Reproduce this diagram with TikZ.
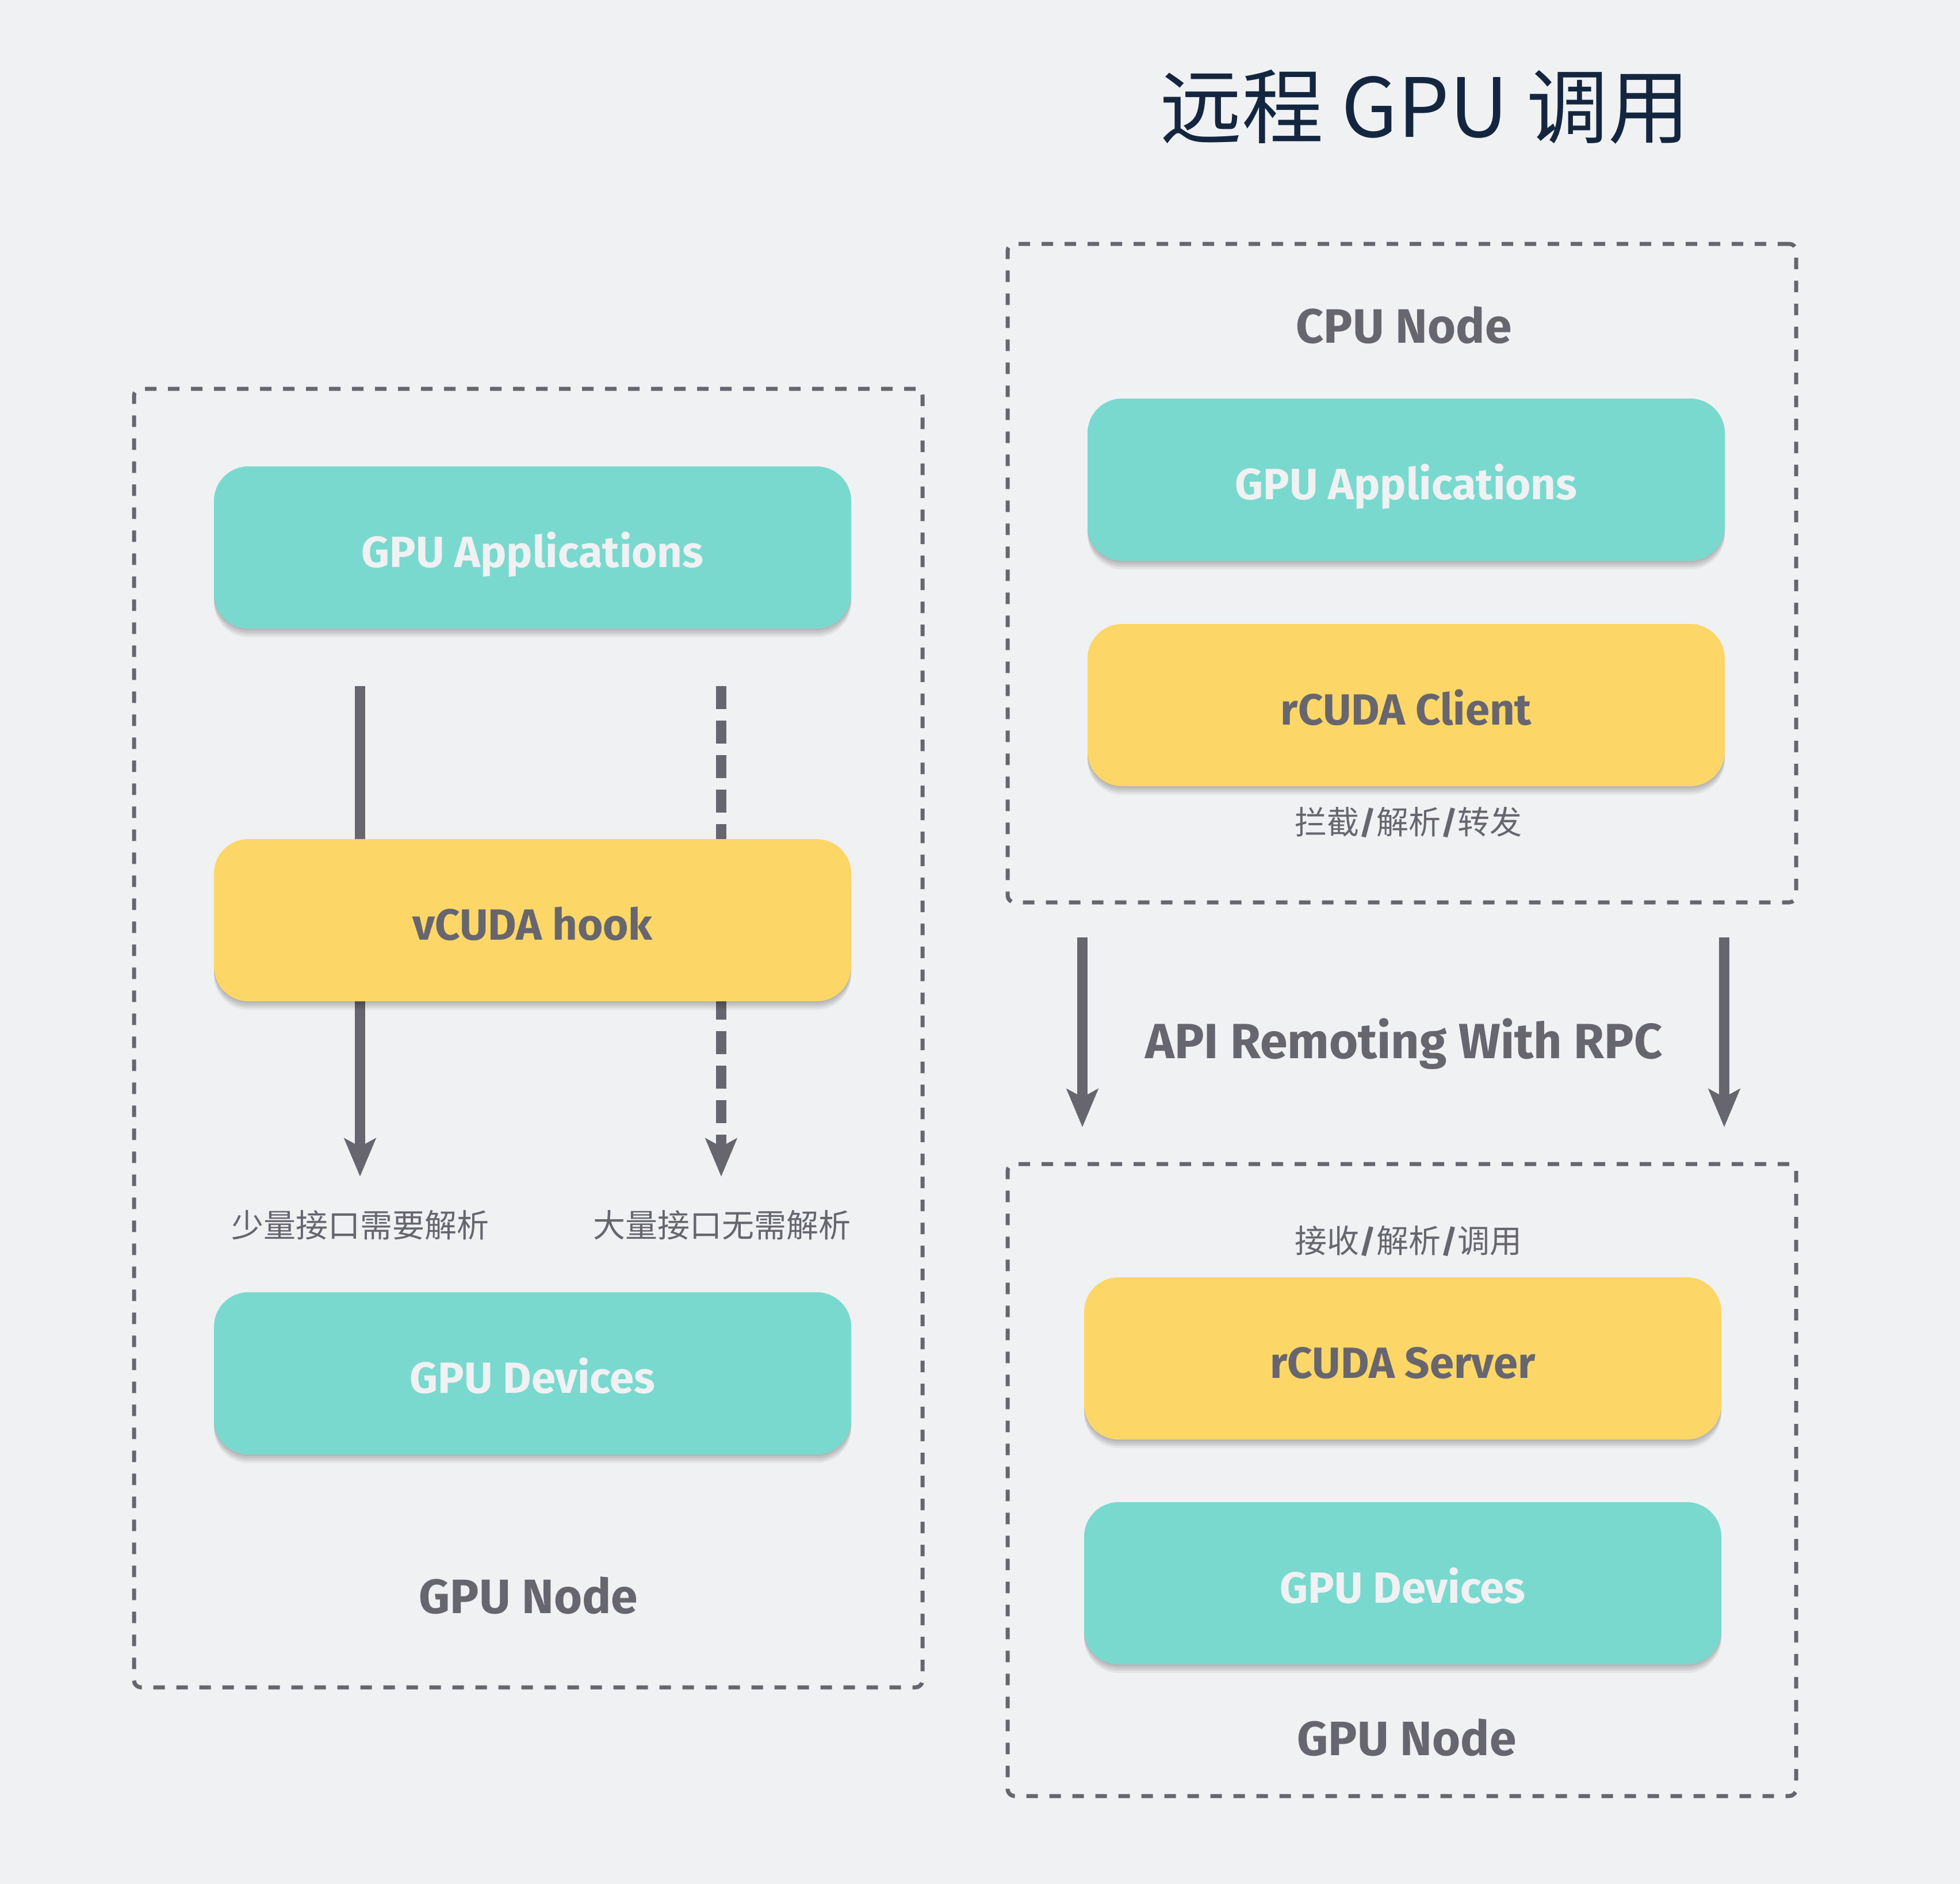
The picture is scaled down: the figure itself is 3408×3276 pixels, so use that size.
\documentclass[tikz,border=0pt]{standalone}
\usepackage{fontspec}
\setmainfont{Fira Sans}
\newfontfamily\cjk{Noto Sans CJK SC}
\usetikzlibrary{arrows.meta,shadows}
\definecolor{bgc}{HTML}{F0F1F3}
\definecolor{tealc}{HTML}{7AD9CE}
\definecolor{yelc}{HTML}{FCD767}
\definecolor{gryc}{HTML}{67666F}
\definecolor{navyc}{HTML}{14263F}
\newcommand{\boldslash}{{\fontspec{Fira Sans}\bfseries /}}
\begin{document}
\begin{tikzpicture}[x=1pt,y=-1pt,
  softshadow/.style={
    drop shadow={shadow xshift=0pt,shadow yshift=-3pt,opacity=.07,fill=black},
    drop shadow={shadow xshift=0pt,shadow yshift=-7pt,opacity=.07,fill=black},
    drop shadow={shadow xshift=0pt,shadow yshift=-11pt,opacity=.07,fill=black},
    drop shadow={shadow xshift=0pt,shadow yshift=-15pt,opacity=.05,fill=black}},
  box/.style={softshadow,rounded corners=60pt,minimum width=1108pt,minimum height=282pt,
    inner sep=0pt,text height=68pt,text depth=0pt,
    font=\fontsize{76}{90}\selectfont\bfseries},
  tealbox/.style={box,fill=tealc,text=bgc},
  yelbox/.style={box,fill=yelc,text=gryc},
  frame/.style={draw=gryc,line width=7pt,dash pattern=on 20pt off 20pt,
    rounded corners=12pt,inner sep=0pt},
  biglabel/.style={text=gryc,inner sep=0pt,text height=58pt,text depth=0pt,
    font=\fontsize{84}{100}\selectfont\bfseries},
  cjklabel/.style={text=gryc,inner sep=0pt,font=\cjk\fontsize{56}{64}\selectfont},
  flow/.style={draw=gryc,line width=18pt,-{Stealth[length=66pt,width=54pt,inset=14pt]}},
  dflow/.style={flow,dash pattern=on 40pt off 20pt}
]
\useasboundingbox[fill=bgc] (0,0) rectangle (3408,3276);

% title
\node[text=navyc,inner sep=0pt,font=\cjk\fontsize{142}{170}\selectfont] (title) at (2478,186) {远程 GPU 调用};

% frames
\node[frame,minimum width=1371pt,minimum height=2258pt] (lframe) at (918.5,1805) {};
\node[frame,minimum width=1371pt,minimum height=1145pt] (cframe) at (2437.5,996.5) {};
\node[frame,minimum width=1371pt,minimum height=1099pt] (gframe) at (2437.5,2573.5) {};

% left arrows (behind vCUDA hook)
\coordinate (a1s) at (626,1193);
\coordinate (a1e) at (626,2046);
\coordinate (a2s) at (1254,1193);
\coordinate (a2e) at (1254,2046);
\draw[flow] (a1s) -- (a1e);
\draw[dflow] (a2s) -- (a2e);

% left boxes
\node[tealbox] (lapp) at (926,952) {GPU Applications};
\node[yelbox] (hook) at (926,1600) {vCUDA hook};
\node[tealbox] (ldev) at (926,2388) {GPU Devices};
\node[cjklabel] (lab1) at (626,2130) {少量接口需要解析};
\node[cjklabel] (lab2) at (1255,2130) {大量接口无需解析};
\node[biglabel] (lnode) at (919,2776) {GPU Node};

% right top
\node[biglabel] (cnode) at (2441,567) {CPU Node};
\node[tealbox] (rapp) at (2445,834) {GPU Applications};
\node[yelbox] (client) at (2445,1226) {rCUDA Client};
\node[cjklabel] (lab3) at (2449,1430) {拦截\boldslash 解析\boldslash 转发};

% remoting arrows
\coordinate (b1s) at (1882,1630);
\coordinate (b1e) at (1882,1960);
\coordinate (b2s) at (2998,1630);
\coordinate (b2e) at (2998,1960);
\draw[flow] (b1s) -- (b1e);
\draw[flow] (b2s) -- (b2e);
\node[biglabel,font=\fontsize{86}{100}\selectfont\bfseries] (rpc) at (2441,1811) {API Remoting With RPC};

% right bottom
\node[cjklabel] (lab4) at (2449,2158) {接收\boldslash 解析\boldslash 调用};
\node[yelbox] (server) at (2439,2362) {rCUDA Server};
\node[tealbox] (rdev) at (2439,2753) {GPU Devices};
\node[biglabel] (gnode) at (2446,3023) {GPU Node};
\end{tikzpicture}
\end{document}
